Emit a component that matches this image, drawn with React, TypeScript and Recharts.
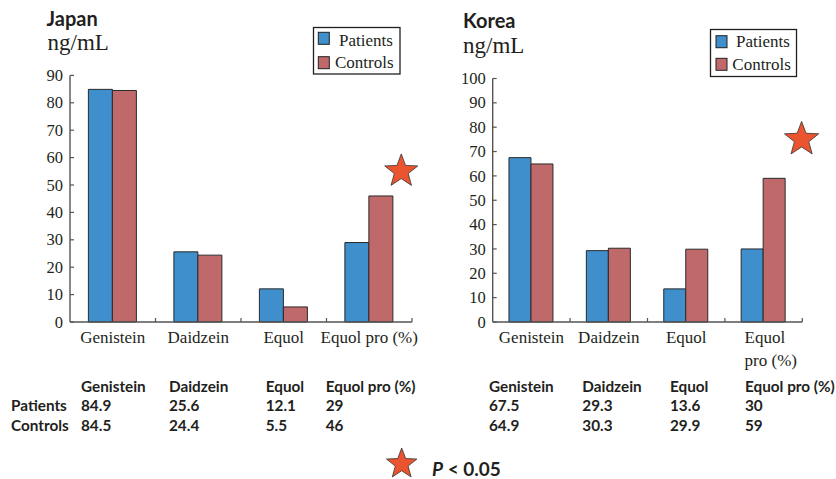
import React from 'react';
import { BarChart, Bar, XAxis, YAxis, ReferenceLine, ReferenceDot } from 'recharts';

const categories = ['Genistein', 'Daidzein', 'Equol', 'Equol pro (%)'];
const seriesNames = ['Patients', 'Controls'];
const japanPatients = [84.9, 25.6, 12.1, 29];
const japanControls = [84.5, 24.4, 5.5, 46];
const koreaPatients = [67.5, 29.3, 13.6, 30];
const koreaControls = [64.9, 30.3, 29.9, 59];
const japanYTicks = [0, 10, 20, 30, 40, 50, 60, 70, 80, 90];
const koreaYTicks = [0, 10, 20, 30, 40, 50, 60, 70, 80, 90, 100];
const japanTickLines = [['Genistein'], ['Daidzein'], ['Equol'], ['Equol pro (%)']];
const koreaTickLines = [['Genistein'], ['Daidzein'], ['Equol'], ['Equol', 'pro (%)']];
const tableHeaders = ['Genistein', 'Daidzein', 'Equol', 'Equol pro (%)'];
const significantCategory = 'Equol pro (%)';
const japanStarValue = 55;
const koreaStarValue = 75;

const BLUE = '#3e8fcc';
const RED = '#c0696a';
const STAR = '#ea5530';
const AXIS = '#555555';
const INK = '#231f20';
const SERIF = '"Liberation Serif", "Times New Roman", serif';
const SANS = 'Lato, "Open Sans", sans-serif';

const buildRows = (p: number[], c: number[]) =>
  categories.map((name, i) => ({ name, Patients: p[i], Controls: c[i] }));

const japanData = buildRows(japanPatients, japanControls);
const koreaData = buildRows(koreaPatients, koreaControls);

function starPoints(cx: number, cy: number, R: number): string {
  const r = R * 0.42;
  const pts: string[] = [];
  for (let i = 0; i < 10; i++) {
    const rad = i % 2 === 0 ? R : r;
    const a = -Math.PI / 2 + (i * Math.PI) / 5;
    pts.push(`${(cx + rad * Math.cos(a)).toFixed(2)},${(cy + rad * Math.sin(a)).toFixed(2)}`);
  }
  return pts.join(' ');
}

const Star = ({ cx, cy, R }: { cx: number; cy: number; R: number }) => (
  <polygon points={starPoints(cx, cy, R)} fill={STAR} stroke="#333" strokeWidth={0.8} />
);

const YTick = (props: any) => {
  const { x, y, payload } = props;
  return (
    <g>
      <line x1={x + 7} x2={x + 11} y1={y} y2={y} stroke={AXIS} strokeWidth={1.2} />
      <text x={x} y={y} dy="0.34em" textAnchor="end" fontFamily={SERIF} fontSize={16.5} fill={INK}>
        {payload.value}
      </text>
    </g>
  );
};

const makeXTick = (lines: string[][]) => (props: any) => {
  const { x, y, index } = props;
  const ls = lines[index] || [String(props.payload.value)];
  if (ls.length === 1) {
    return (
      <text x={x} y={y + 21} textAnchor="middle" fontFamily={SERIF} fontSize={17} fill={INK}>
        {ls[0]}
      </text>
    );
  }
  return (
    <text x={x - 19} y={y + 21} textAnchor="start" fontFamily={SERIF} fontSize={17} fill={INK}>
      {ls.map((l, i) => (
        <tspan key={i} x={x - 19} dy={i === 0 ? 0 : 22.6}>
          {l}
        </tspan>
      ))}
    </text>
  );
};

const boundaryTick = (p: any) => {
  const yb = Math.max(p.y1, p.y2);
  return <line x1={p.x1} x2={p.x1} y1={yb} y2={yb - 4} stroke={AXIS} strokeWidth={1.2} />;
};

function Panel(props: {
  data: any[];
  width: number;
  top: number;
  yWidth: number;
  right: number;
  yMax: number;
  yTicks: number[];
  tickLines: string[][];
  gap: string;
  starValue: number;
  starDx: number;
  starR: number;
}) {
  const XTick = makeXTick(props.tickLines);
  return (
    <BarChart
      width={props.width}
      height={380}
      data={props.data}
      margin={{ top: props.top, right: props.right, bottom: 0, left: 0 }}
      barCategoryGap={props.gap}
      barGap={0}
    >
      <XAxis
        dataKey="name"
        height={58}
        tickLine={false}
        tickSize={0}
        tickMargin={0}
        interval={0}
        axisLine={{ stroke: AXIS, strokeWidth: 1.4 }}
        tick={<XTick />}
      />
      <YAxis
        width={props.yWidth}
        domain={[0, props.yMax]}
        ticks={props.yTicks}
        interval={0}
        tickLine={false}
        tickSize={0}
        tickMargin={7}
        axisLine={{ stroke: AXIS, strokeWidth: 1.4 }}
        tick={<YTick />}
      />
      <Bar dataKey="Patients" fill={BLUE} stroke="#2a2a2a" strokeWidth={1} isAnimationActive={false} />
      <Bar dataKey="Controls" fill={RED} stroke="#2a2a2a" strokeWidth={1} isAnimationActive={false} />
      {categories.map((c) => (
        <ReferenceLine key={c} x={c} position="end" stroke={AXIS} shape={boundaryTick} ifOverflow="visible" />
      ))}
      <ReferenceDot
        x={significantCategory}
        y={props.starValue}
        r={props.starR}
        ifOverflow="visible"
        shape={(p: any) => <Star cx={p.cx + props.starDx} cy={p.cy} R={props.starR} />}
      />
    </BarChart>
  );
}

const Legend = ({ x, y, w, h, sw, sy1, sy2, tx1, tx2, ty1, ty2 }: any) => (
  <g>
    <rect x={x} y={y} width={w} height={h} fill="#fff" stroke={INK} strokeWidth={1.3} />
    <rect x={sw} y={sy1} width={11} height={12} fill={BLUE} stroke={INK} strokeWidth={1} />
    <rect x={sw} y={sy2} width={11} height={12} fill={RED} stroke={INK} strokeWidth={1} />
    <text x={tx1} y={ty1} fontFamily={SERIF} fontSize={17} fill={INK}>{seriesNames[0]}</text>
    <text x={tx2} y={ty2} fontFamily={SERIF} fontSize={17} fill={INK}>{seriesNames[1]}</text>
  </g>
);

const Table = ({ cols, labelX, patients, controls, showLabels }: any) => (
  <g fontFamily={SANS} fontWeight={700} fontSize={15.3} fill={INK}>
    {tableHeaders.map((h, i) => (
      <text key={'h' + i} x={cols[i]} y={392}>{h}</text>
    ))}
    {showLabels && <text x={labelX} y={411}>{seriesNames[0]}</text>}
    {showLabels && <text x={labelX} y={430.5}>{seriesNames[1]}</text>}
    {patients.map((v: number, i: number) => (
      <text key={'p' + i} x={cols[i]} y={411}>{String(v)}</text>
    ))}
    {controls.map((v: number, i: number) => (
      <text key={'c' + i} x={cols[i]} y={430.5}>{String(v)}</text>
    ))}
  </g>
);

export default function App() {
  return (
    <div style={{ position: 'absolute', left: 0, top: 0, width: 836, height: 479, background: '#fff', overflow: 'hidden' }}>
      <div style={{ position: 'absolute', left: 0, top: 0 }}>
        <Panel
          data={japanData}
          width={420}
          top={75.4}
          yWidth={70}
          right={8}
          yMax={90}
          yTicks={japanYTicks}
          tickLines={japanTickLines}
          gap="21.5%"
          starValue={japanStarValue}
          starDx={32}
          starR={17.4}
        />
      </div>
      <div style={{ position: 'absolute', left: 420, top: 0 }}>
        <Panel
          data={koreaData}
          width={416}
          top={78.5}
          yWidth={72.7}
          right={33.7}
          yMax={100}
          yTicks={koreaYTicks}
          tickLines={koreaTickLines}
          gap="21%"
          starValue={koreaStarValue}
          starDx={38}
          starR={18}
        />
      </div>
      <svg width={836} height={479} style={{ position: 'absolute', left: 0, top: 0, pointerEvents: 'none' }}>
        <text x={46.5} y={26} fontFamily={SANS} fontWeight={700} fontSize={20} fill={INK}>Japan</text>
        <text x={47.5} y={50} fontFamily={SERIF} fontSize={23} fill={INK}>ng/mL</text>
        <text x={463} y={28.3} fontFamily={SANS} fontWeight={700} fontSize={20} fill={INK}>Korea</text>
        <text x={463} y={52.7} fontFamily={SERIF} fontSize={23} fill={INK}>ng/mL</text>
        <Legend x={313.5} y={27.5} w={86.5} h={46.5} sw={318.3} sy1={32.3} sy2={56.7} tx1={339} tx2={335} ty1={45.5} ty2={68} />
        <Legend x={710.5} y={29.5} w={86} h={47} sw={716} sy1={35.7} sy2={58.3} tx1={736} tx2={732.3} ty1={47} ty2={70} />
        <Table cols={[81, 169, 265.7, 325.7]} labelX={11} patients={japanPatients} controls={japanControls} showLabels />
        <Table cols={[489, 582.3, 670, 745]} labelX={0} patients={koreaPatients} controls={koreaControls} showLabels={false} />
        <Star cx={401.7} cy={464} R={16} />
        <text x={432} y={476} fontFamily={SANS} fontWeight={700} fontSize={19} fill={INK}>
          <tspan fontStyle="italic">P</tspan> &lt; 0.05
        </text>
      </svg>
    </div>
  );
}
